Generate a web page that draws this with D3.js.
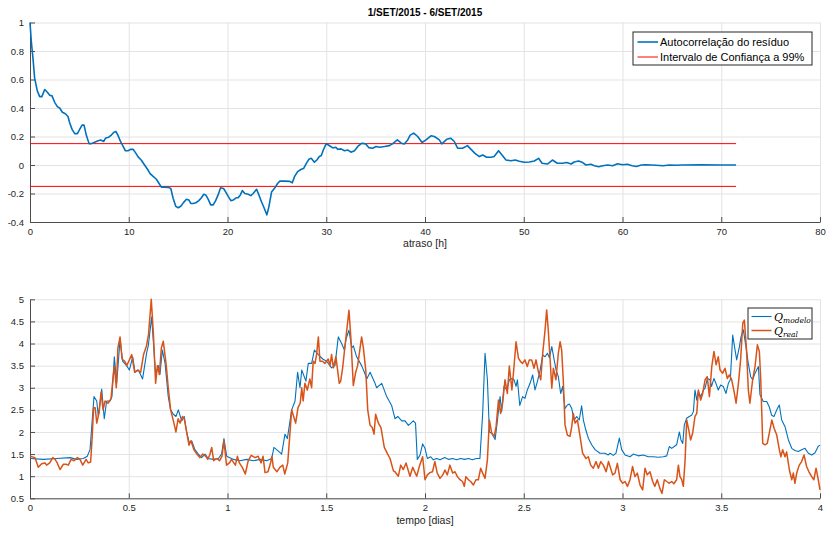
<!DOCTYPE html>
<html>
<head>
<meta charset="utf-8">
<title>Autocorrelação do resíduo</title>
<script src="https://d3js.org/d3.v7.min.js"></script>
<style>
body{ margin:0; background:#fff; font-family:"Liberation Sans", Arial, sans-serif; }
.tick text{ fill:#262626; font-size:9.5px; font-family:"Liberation Sans", Arial, sans-serif; }
.grid line{ stroke:#e3e3e3; stroke-width:1; }
.grid path{ display:none; }
.ax path, .ax line{ stroke:#4d4d4d; }
</style>
</head>
<body>
<svg id="chart" width="829" height="534"></svg>
<script>
// ---- dados ----
var titulo = "1/SET/2015 - 6/SET/2015";

// autocorrelação: [atraso h, valor]
var acf = [[0,1.0],[0.14,0.86],[0.3,0.75],[0.47,0.61],[0.74,0.52],[0.98,0.48],[1.2,0.48],[1.49,0.53],[1.76,0.51],[2.0,0.49],[2.23,0.485],[2.5,0.44],[2.77,0.41],[3.0,0.40],[3.28,0.37],[3.58,0.36],[3.85,0.34],[4.0,0.30],[4.26,0.25],[4.53,0.22],[4.8,0.22],[5.03,0.25],[5.27,0.28],[5.47,0.28],[5.7,0.21],[5.98,0.15],[6.2,0.15],[6.55,0.16],[6.9,0.17],[7.16,0.175],[7.47,0.165],[7.67,0.19],[7.97,0.195],[8.24,0.21],[8.5,0.23],[8.7,0.235],[8.9,0.21],[9.2,0.16],[9.43,0.13],[9.66,0.10],[9.93,0.10],[10.2,0.11],[10.44,0.11],[10.68,0.087],[10.95,0.057],[11.28,0.033],[11.6,0.0],[11.9,-0.03],[12.16,-0.06],[12.47,-0.08],[12.8,-0.10],[13.07,-0.13],[13.3,-0.155],[13.6,-0.155],[14.0,-0.157],[14.26,-0.165],[14.5,-0.235],[14.76,-0.29],[15.0,-0.30],[15.27,-0.29],[15.54,-0.264],[15.84,-0.24],[16.08,-0.245],[16.28,-0.27],[16.5,-0.27],[16.8,-0.265],[17.1,-0.25],[17.36,-0.23],[17.6,-0.205],[17.8,-0.21],[18.04,-0.24],[18.3,-0.28],[18.55,-0.28],[18.8,-0.25],[19.05,-0.21],[19.3,-0.16],[19.6,-0.165],[19.83,-0.19],[20.07,-0.22],[20.34,-0.25],[20.6,-0.245],[20.88,-0.23],[21.08,-0.23],[21.3,-0.21],[21.5,-0.18],[21.76,-0.20],[22.1,-0.205],[22.36,-0.215],[22.6,-0.20],[22.94,-0.17],[23.18,-0.21],[23.45,-0.26],[23.7,-0.30],[23.99,-0.35],[24.2,-0.29],[24.46,-0.19],[24.8,-0.16],[25.07,-0.13],[25.3,-0.113],[25.8,-0.113],[26.3,-0.115],[26.56,-0.125],[26.8,-0.08],[27.1,-0.047],[27.47,-0.03],[27.7,-0.025],[27.97,0.01],[28.24,0.04],[28.48,0.047],[28.8,0.02],[29.05,0.035],[29.3,0.06],[29.5,0.066],[29.7,0.105],[30.0,0.15],[30.33,0.135],[30.67,0.12],[30.94,0.125],[31.18,0.11],[31.5,0.113],[31.85,0.10],[32.2,0.105],[32.5,0.09],[32.86,0.10],[33.2,0.13],[33.6,0.153],[34.0,0.148],[34.3,0.122],[34.7,0.118],[35.05,0.13],[35.4,0.125],[35.9,0.13],[36.4,0.136],[36.7,0.148],[37.2,0.176],[37.6,0.153],[37.9,0.148],[38.25,0.176],[38.5,0.21],[38.86,0.224],[39.26,0.2],[39.7,0.158],[40.1,0.176],[40.6,0.205],[40.95,0.2],[41.45,0.176],[41.7,0.148],[42.2,0.18],[42.6,0.188],[42.97,0.165],[43.3,0.118],[43.8,0.118],[44.3,0.136],[44.66,0.11],[45.06,0.082],[45.5,0.059],[45.84,0.07],[46.25,0.054],[46.7,0.054],[47.0,0.059],[47.45,0.10],[47.8,0.07],[48.2,0.035],[48.7,0.03],[49.15,0.035],[49.55,0.026],[50.06,0.019],[50.57,0.021],[51.07,0.028],[51.5,0.047],[51.85,0.012],[52.4,0.007],[52.9,0.035],[53.4,0.012],[53.9,0.012],[54.35,0.017],[54.8,0.007],[55.1,0.021],[55.56,0.028],[55.97,0.017],[56.3,0.0],[56.8,0.005],[57.15,-0.005],[57.6,-0.012],[58.0,-0.005],[58.5,0.0],[59.0,-0.005],[59.5,0.009],[60.0,0.002],[60.5,0.005],[60.97,-0.005],[61.4,-0.01],[61.9,0.0],[62.4,0.002],[62.9,0.0],[63.4,-0.002],[64.1,-0.005],[64.75,0.0],[65.4,-0.002],[66.1,0.0],[68,0.001],[70,0.0],[71.5,0.0]];
var limiteConf = 0.15;     // intervalo de confiança a 99% (±)
var atrasoMax = 71.5;

// caudal: [tempo dias, Q]
var qModelo = [[0,1.40],[0.068,1.38],[0.135,1.40],[0.203,1.42],[0.236,1.38],[0.27,1.40],[0.29,1.45],[0.304,1.6],[0.314,2.2],[0.324,2.8],[0.338,2.7],[0.346,2.35],[0.363,2.97],[0.376,2.3],[0.388,2.7],[0.405,2.7],[0.415,2.8],[0.427,3.7],[0.439,3.1],[0.456,4.1],[0.469,3.6],[0.489,3.5],[0.503,3.4],[0.52,3.7],[0.532,3.35],[0.549,3.4],[0.57,3.2],[0.591,3.8],[0.599,3.95],[0.616,4.6],[0.636,3.3],[0.65,3.5],[0.658,3.3],[0.67,3.85],[0.684,3.55],[0.7,2.8],[0.712,2.5],[0.726,2.4],[0.739,2.35],[0.751,2.5],[0.768,2.25],[0.781,2.35],[0.793,2.0],[0.807,1.75],[0.819,1.8],[0.835,1.6],[0.852,1.5],[0.869,1.42],[0.886,1.5],[0.903,1.4],[0.928,1.38],[0.954,1.4],[0.97,1.5],[0.982,1.85],[0.996,1.45],[1.03,1.38],[1.063,1.35],[1.097,1.38],[1.131,1.35],[1.165,1.38],[1.198,1.35],[1.224,1.4],[1.235,1.65],[1.262,1.55],[1.274,1.5],[1.291,1.95],[1.303,1.85],[1.325,2.5],[1.342,2.7],[1.355,3.35],[1.367,3.0],[1.376,3.4],[1.397,3.15],[1.409,3.55],[1.426,3.55],[1.44,3.85],[1.46,3.75],[1.482,3.65],[1.502,3.6],[1.527,3.45],[1.544,3.5],[1.561,4.15],[1.578,4.0],[1.592,3.85],[1.6,4.1],[1.615,4.3],[1.629,3.9],[1.637,3.95],[1.654,3.7],[1.679,3.5],[1.693,3.35],[1.705,3.2],[1.722,3.35],[1.747,3.1],[1.755,3.0],[1.781,3.1],[1.806,2.8],[1.831,2.6],[1.848,2.3],[1.862,2.35],[1.882,2.25],[1.899,2.25],[1.916,2.15],[1.941,2.25],[1.952,2.2],[1.961,1.38],[1.975,1.48],[1.988,1.73],[2.0,1.63],[2.012,1.4],[2.029,1.44],[2.042,1.37],[2.059,1.4],[2.076,1.37],[2.1,1.42],[2.12,1.38],[2.14,1.4],[2.16,1.37],[2.18,1.4],[2.2,1.38],[2.22,1.4],[2.24,1.37],[2.26,1.4],[2.278,1.4],[2.292,2.42],[2.304,3.78],[2.316,3.18],[2.326,2.0],[2.338,1.97],[2.355,1.83],[2.367,2.27],[2.38,2.8],[2.388,2.46],[2.4,3.03],[2.414,2.95],[2.427,3.18],[2.44,3.21],[2.451,3.18],[2.461,3.03],[2.468,3.18],[2.48,2.6],[2.494,2.8],[2.506,2.76],[2.518,2.95],[2.532,3.1],[2.545,3.29],[2.557,2.95],[2.569,3.14],[2.583,3.4],[2.596,3.74],[2.608,3.7],[2.62,3.78],[2.63,3.68],[2.642,3.93],[2.654,3.63],[2.664,3.4],[2.675,3.25],[2.687,2.87],[2.697,3.03],[2.709,2.53],[2.721,2.61],[2.731,2.63],[2.743,2.53],[2.755,2.27],[2.768,2.35],[2.781,2.27],[2.793,2.59],[2.802,2.27],[2.814,2.05],[2.827,1.86],[2.844,1.71],[2.861,1.6],[2.886,1.52],[2.911,1.52],[2.928,1.48],[2.937,1.52],[2.954,1.47],[2.967,1.52],[2.984,1.86],[2.996,1.6],[3.013,1.48],[3.038,1.44],[3.055,1.5],[3.08,1.46],[3.105,1.48],[3.131,1.44],[3.156,1.44],[3.182,1.43],[3.207,1.44],[3.224,1.46],[3.237,1.67],[3.249,1.63],[3.262,1.67],[3.274,1.71],[3.288,2.0],[3.296,1.82],[3.305,1.74],[3.313,2.16],[3.325,2.31],[3.338,2.35],[3.35,2.38],[3.359,2.46],[3.367,2.95],[3.376,2.72],[3.384,2.91],[3.396,2.8],[3.41,2.95],[3.418,2.99],[3.43,3.21],[3.443,3.18],[3.451,3.03],[3.463,3.21],[3.473,3.1],[3.485,2.95],[3.497,3.06],[3.51,3.03],[3.524,2.87],[3.536,3.1],[3.546,3.18],[3.558,4.19],[3.57,3.85],[3.578,3.63],[3.592,3.93],[3.6,4.15],[3.612,4.31],[3.625,3.93],[3.637,3.55],[3.649,3.25],[3.659,3.18],[3.671,3.33],[3.688,3.48],[3.696,2.84],[3.713,2.69],[3.73,2.69],[3.743,2.57],[3.755,2.38],[3.767,2.35],[3.781,2.5],[3.794,2.61],[3.806,2.27],[3.823,2.12],[3.84,1.82],[3.857,1.63],[3.873,1.58],[3.89,1.56],[3.907,1.6],[3.924,1.63],[3.941,1.52],[3.958,1.48],[3.975,1.53],[3.992,1.68],[4.0,1.7]];

var qReal = [[0,1.45],[0.025,1.42],[0.042,1.2],[0.059,1.28],[0.076,1.3],[0.084,1.25],[0.1,1.3],[0.115,1.42],[0.127,1.38],[0.138,1.3],[0.152,1.15],[0.169,1.27],[0.182,1.27],[0.194,1.25],[0.208,1.38],[0.223,1.35],[0.24,1.42],[0.253,1.38],[0.267,1.25],[0.284,1.38],[0.295,1.3],[0.307,1.32],[0.315,1.9],[0.322,2.55],[0.33,2.55],[0.338,2.2],[0.35,2.45],[0.36,2.9],[0.37,2.5],[0.38,2.7],[0.395,2.65],[0.41,2.75],[0.42,3.2],[0.427,3.5],[0.437,3.0],[0.445,3.9],[0.456,4.15],[0.466,3.65],[0.48,3.6],[0.49,3.5],[0.5,3.6],[0.515,3.75],[0.53,3.35],[0.545,3.4],[0.56,3.35],[0.575,3.75],[0.59,3.95],[0.6,4.2],[0.614,5.0],[0.625,4.2],[0.636,3.1],[0.645,3.5],[0.655,3.3],[0.665,3.9],[0.675,4.05],[0.69,3.5],[0.7,3.0],[0.712,2.5],[0.726,2.25],[0.739,2.0],[0.75,2.3],[0.76,2.2],[0.772,2.35],[0.781,2.3],[0.793,2.0],[0.805,1.7],[0.815,1.8],[0.83,1.6],[0.845,1.5],[0.86,1.42],[0.875,1.5],[0.89,1.45],[0.9,1.38],[0.91,1.48],[0.92,1.65],[0.93,1.35],[0.945,1.4],[0.96,1.35],[0.972,1.45],[0.982,1.8],[0.995,1.25],[1.01,1.3],[1.02,1.38],[1.04,1.25],[1.05,1.45],[1.06,1.3],[1.075,1.2],[1.09,1.05],[1.105,1.35],[1.12,1.47],[1.14,1.42],[1.155,1.45],[1.17,1.3],[1.18,1.45],[1.19,1.08],[1.205,1.1],[1.218,1.3],[1.225,1.45],[1.232,1.2],[1.25,1.1],[1.265,1.2],[1.28,1.25],[1.29,1.05],[1.305,1.3],[1.315,1.9],[1.325,2.5],[1.335,2.35],[1.345,2.2],[1.357,2.55],[1.368,2.65],[1.376,3.0],[1.383,2.7],[1.392,3.1],[1.404,2.95],[1.417,3.2],[1.426,3.0],[1.434,3.6],[1.443,3.55],[1.451,3.75],[1.46,4.15],[1.468,3.6],[1.481,3.6],[1.493,3.55],[1.51,3.65],[1.519,3.5],[1.527,3.75],[1.536,3.45],[1.549,3.7],[1.566,3.1],[1.573,3.15],[1.583,3.45],[1.595,3.95],[1.615,4.75],[1.625,4.1],[1.637,3.05],[1.649,3.35],[1.659,3.5],[1.679,4.15],[1.688,3.9],[1.7,3.4],[1.71,2.5],[1.722,2.15],[1.733,2.1],[1.742,1.95],[1.75,2.4],[1.764,2.2],[1.777,2.1],[1.794,1.65],[1.811,1.5],[1.823,1.4],[1.84,1.12],[1.848,1.1],[1.865,1.0],[1.877,1.25],[1.89,1.15],[1.904,1.3],[1.924,1.0],[1.938,1.2],[1.958,1.0],[1.97,1.2],[1.988,1.44],[2.0,0.92],[2.012,1.03],[2.025,1.08],[2.038,1.1],[2.05,1.33],[2.062,1.07],[2.076,0.95],[2.09,1.03],[2.101,1.14],[2.113,1.03],[2.126,1.25],[2.14,1.07],[2.152,1.1],[2.164,0.99],[2.177,0.92],[2.19,0.88],[2.199,0.77],[2.207,0.99],[2.22,0.92],[2.231,0.88],[2.245,0.8],[2.258,0.92],[2.27,0.92],[2.282,1.18],[2.292,1.07],[2.304,0.95],[2.316,1.37],[2.326,2.27],[2.338,1.97],[2.35,1.9],[2.36,2.12],[2.372,2.72],[2.383,2.42],[2.393,2.65],[2.405,3.18],[2.417,2.87],[2.427,3.49],[2.44,2.95],[2.45,3.44],[2.461,4.04],[2.473,3.67],[2.484,3.59],[2.494,3.55],[2.506,3.63],[2.518,3.48],[2.528,3.63],[2.54,3.63],[2.552,3.44],[2.562,3.63],[2.574,3.36],[2.586,3.18],[2.596,3.78],[2.608,4.31],[2.616,4.76],[2.624,4.31],[2.633,3.67],[2.642,2.99],[2.65,3.44],[2.663,3.18],[2.675,3.78],[2.684,4.04],[2.692,3.85],[2.7,3.18],[2.709,2.16],[2.721,1.93],[2.734,1.9],[2.743,2.12],[2.751,2.42],[2.76,2.2],[2.772,2.27],[2.785,1.9],[2.798,1.52],[2.815,1.4],[2.827,1.44],[2.839,1.25],[2.852,1.18],[2.866,1.33],[2.878,1.18],[2.89,1.33],[2.903,1.25],[2.917,1.1],[2.929,1.33],[2.937,1.22],[2.95,1.03],[2.962,1.07],[2.974,1.29],[2.988,0.92],[3.001,0.84],[3.013,0.88],[3.025,0.77],[3.038,0.92],[3.051,1.22],[3.063,0.99],[3.075,1.07],[3.089,0.8],[3.102,0.69],[3.114,1.18],[3.125,1.03],[3.139,1.1],[3.153,0.88],[3.164,0.77],[3.176,0.92],[3.189,0.73],[3.2,0.61],[3.212,0.92],[3.224,0.88],[3.237,0.84],[3.249,0.88],[3.26,0.83],[3.274,0.92],[3.283,1.25],[3.291,0.99],[3.3,0.92],[3.308,0.77],[3.317,1.37],[3.325,2.27],[3.334,2.08],[3.345,1.82],[3.355,1.97],[3.367,2.35],[3.376,2.42],[3.384,2.95],[3.396,2.72],[3.406,2.87],[3.418,3.18],[3.429,3.25],[3.44,2.8],[3.452,3.48],[3.463,3.82],[3.474,3.52],[3.485,3.7],[3.494,3.4],[3.507,3.33],[3.519,3.44],[3.531,3.21],[3.541,3.29],[3.553,3.18],[3.565,2.91],[3.575,2.65],[3.587,3.1],[3.598,3.63],[3.609,4.46],[3.617,4.53],[3.628,3.85],[3.637,2.95],[3.645,2.65],[3.659,3.18],[3.671,3.48],[3.683,3.97],[3.693,3.82],[3.7,3.18],[3.71,1.74],[3.722,1.71],[3.733,1.74],[3.743,1.97],[3.756,2.27],[3.768,2.08],[3.781,1.93],[3.794,1.6],[3.802,1.44],[3.811,1.6],[3.823,1.44],[3.831,1.55],[3.845,1.14],[3.857,0.92],[3.865,1.07],[3.873,0.84],[3.882,1.07],[3.895,1.25],[3.907,1.33],[3.919,1.48],[3.932,1.22],[3.944,1.1],[3.958,0.99],[3.969,0.92],[3.98,1.18],[3.99,0.95],[4.0,0.69]];

var ticksAtraso = [0, 10, 20, 30, 40, 50, 60, 70, 80];
var ticksAcf = [-0.4, -0.2, 0, 0.2, 0.4, 0.6, 0.8, 1];
var ticksTempo = [0, 0.5, 1, 1.5, 2, 2.5, 3, 3.5, 4];
var ticksQ = [0.5, 1, 1.5, 2, 2.5, 3, 3.5, 4, 4.5, 5];

var azul = "#0072BD", laranja = "#D95319", vermelho = "#FF0000";

var svg = d3.select("#chart");
var fmt = function(d){ return String(+d.toFixed(2)); };

// desenha os eixos no estilo matlab (ticks para dentro, grelha cinzenta)
function eixos(g, x, y, xt, yt, w, h){
	g.append("g").attr("class", "grid")
		.call(d3.axisLeft(y).tickValues(yt).tickSize(-w).tickFormat(""));
	g.append("g").attr("class", "grid")
		.attr("transform", "translate(0," + h + ")")
		.call(d3.axisBottom(x).tickValues(xt).tickSize(-h).tickFormat(""));
	g.append("g").attr("class", "ax")
		.call(d3.axisLeft(y).tickValues(yt).tickSizeInner(-5).tickSizeOuter(0).tickPadding(6).tickFormat(fmt));
	g.append("g").attr("class", "ax")
		.attr("transform", "translate(0," + h + ")")
		.call(d3.axisBottom(x).tickValues(xt).tickSizeInner(-5).tickSizeOuter(0).tickPadding(6).tickFormat(fmt));
}

// ---- painel de cima: autocorrelação ----
var W = 790;
var h1 = 199.5;
var g1 = svg.append("g").attr("transform", "translate(30,22.5)");
var x1 = d3.scaleLinear().domain([0, 80]).range([0, W]);
var y1 = d3.scaleLinear().domain([-0.4, 1]).range([h1, 0]);
eixos(g1, x1, y1, ticksAtraso, ticksAcf, W, h1);

[limiteConf, -limiteConf].forEach(function(v){
	g1.append("line")
		.attr("x1", x1(0)).attr("x2", x1(atrasoMax))
		.attr("y1", y1(v)).attr("y2", y1(v))
		.attr("stroke", vermelho).attr("stroke-width", 1);
});

g1.append("path")
	.datum(acf)
	.attr("fill", "none")
	.attr("stroke", azul)
	.attr("stroke-width", 1.6)
	.attr("stroke-linejoin", "round")
	.attr("d", d3.line().x(function(d){ return x1(d[0]); }).y(function(d){ return y1(d[1]); }));

svg.append("text").attr("x", 425).attr("y", 16)
	.attr("text-anchor", "middle").attr("font-weight", "bold").attr("font-size", "10px")
	.attr("fill", "#000").text(titulo);
svg.append("text").attr("x", 425).attr("y", 247)
	.attr("text-anchor", "middle").attr("font-size", "10.5px").attr("fill", "#262626")
	.text("atraso [h]");

// legenda de cima
var lg1 = svg.append("g").attr("transform", "translate(633,32)");
lg1.append("rect").attr("width", 179).attr("height", 33)
	.attr("fill", "#fff").attr("stroke", "#262626").attr("stroke-width", 1);
[["Autocorrelação do resíduo", azul, 1.6], ["Intervalo de Confiança a 99%", vermelho, 1]].forEach(function(e, i){
	var yy = 10 + i * 15;
	lg1.append("line").attr("x1", 4.5).attr("x2", 25).attr("y1", yy).attr("y2", yy)
		.attr("stroke", e[1]).attr("stroke-width", e[2]);
	lg1.append("text").attr("x", 27).attr("y", yy + 4).attr("font-size", "11px")
		.attr("fill", "#000").text(e[0]);
});

// ---- painel de baixo: caudal ----
var h2 = 199;
var g2 = svg.append("g").attr("transform", "translate(30,299.3)");
var x2 = d3.scaleLinear().domain([0, 4]).range([0, W]);
var y2 = d3.scaleLinear().domain([0.5, 5]).range([h2, 0]);
eixos(g2, x2, y2, ticksTempo, ticksQ, W, h2);

var linha2 = d3.line().x(function(d){ return x2(d[0]); }).y(function(d){ return y2(d[1]); });
g2.append("path").datum(qModelo)
	.attr("fill", "none").attr("stroke", azul).attr("stroke-width", 1.1)
	.attr("stroke-linejoin", "round").attr("d", linha2);
g2.append("path").datum(qReal)
	.attr("fill", "none").attr("stroke", laranja).attr("stroke-width", 1.5)
	.attr("stroke-linejoin", "round").attr("d", linha2);

svg.append("text").attr("x", 425).attr("y", 524)
	.attr("text-anchor", "middle").attr("font-size", "10.5px").attr("fill", "#262626")
	.text("tempo [dias]");

// legenda de baixo (Q com índice, estilo latex)
var lg2 = svg.append("g").attr("transform", "translate(748,308)");
lg2.append("rect").attr("width", 64).attr("height", 31)
	.attr("fill", "#fff").attr("stroke", "#262626").attr("stroke-width", 1);
[["modelo", azul, 1.1], ["real", laranja, 1.5]].forEach(function(e, i){
	var yy = 8.5 + i * 14;
	lg2.append("line").attr("x1", 3.5).attr("x2", 23.5).attr("y1", yy).attr("y2", yy)
		.attr("stroke", e[1]).attr("stroke-width", e[2]);
	var t = lg2.append("text").attr("x", 26).attr("y", yy + 4)
		.attr("font-family", "'DejaVu Serif', 'Liberation Serif', serif")
		.attr("font-style", "italic").attr("font-size", "11px").attr("fill", "#000");
	t.append("tspan").text("Q");
	t.append("tspan").attr("dy", 2).attr("font-size", "7.5px").text(e[0]);
});
</script>
</body>
</html>
